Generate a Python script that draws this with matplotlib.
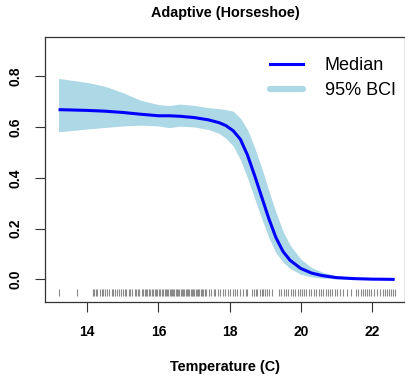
import matplotlib
matplotlib.use("Agg")
import matplotlib.pyplot as plt
from matplotlib.lines import Line2D

plt.rcParams['font.family'] = ['Liberation Sans', 'DejaVu Sans']

# ---- data ----
temperature = [13.19, 13.5, 14.0, 14.5, 15.0, 15.5, 16.0, 16.3, 16.6, 17.0, 17.4, 17.7,
               17.9, 18.1, 18.3, 18.5, 18.7, 18.9, 19.1, 19.3, 19.5, 19.7, 20.0, 20.3,
               20.6, 21.0, 21.5, 22.0, 22.64]
median = [0.668, 0.667, 0.665, 0.662, 0.657, 0.650, 0.644, 0.644, 0.642, 0.637, 0.628, 0.617,
          0.605, 0.585, 0.552, 0.490, 0.410, 0.325, 0.240, 0.165, 0.110, 0.075, 0.043, 0.025,
          0.015, 0.007, 0.003, 0.001, 0.000]
upper = [0.791, 0.785, 0.775, 0.760, 0.735, 0.705, 0.688, 0.684, 0.690, 0.685, 0.676, 0.672,
         0.668, 0.662, 0.635, 0.590, 0.520, 0.440, 0.350, 0.265, 0.190, 0.135, 0.080, 0.047,
         0.029, 0.014, 0.006, 0.003, 0.001]
lower = [0.581, 0.585, 0.592, 0.598, 0.604, 0.607, 0.604, 0.597, 0.603, 0.600, 0.590, 0.575,
         0.555, 0.525, 0.472, 0.400, 0.320, 0.240, 0.165, 0.105, 0.068, 0.043, 0.020, 0.010,
         0.005, 0.002, 0.000, 0.000, 0.000]

rug_temps = [13.19, 13.70,
             14.15, 14.20, 14.24, 14.28, 14.35, 14.40, 14.44, 14.50, 14.55, 14.60, 14.68, 14.72,
             14.77, 14.82, 14.90, 14.95, 15.00, 15.05, 15.09, 15.16, 15.20, 15.25, 15.34, 15.38,
             15.42, 15.46, 15.53, 15.57, 15.61, 15.65, 15.69, 15.73, 15.77, 15.81, 15.85, 15.89,
             15.93, 15.97, 16.01, 16.05, 16.09, 16.13, 16.17, 16.21, 16.25, 16.28, 16.31, 16.35,
             16.38, 16.42, 16.45, 16.49, 16.52, 16.56, 16.59, 16.63, 16.66, 16.70, 16.73, 16.77,
             16.80, 16.84, 16.87, 16.91, 16.94, 16.98, 17.01, 17.05, 17.08, 17.12, 17.15, 17.19,
             17.22, 17.26, 17.30, 17.34, 17.42, 17.48, 17.55, 17.60, 17.68, 17.74, 17.80, 17.88,
             17.95, 18.02, 18.10, 18.16, 18.22, 18.30, 18.38, 18.45, 18.50, 18.62, 18.68, 18.73,
             18.78, 18.84, 18.90, 18.95, 19.00, 19.06, 19.12, 19.20, 19.38, 19.45, 19.52, 19.58,
             19.65, 19.72, 19.78, 19.85, 19.92, 19.98, 20.04, 20.10, 20.16, 20.22, 20.28, 20.36,
             20.44, 20.50, 20.56, 20.62, 20.70, 20.76, 20.82, 20.88, 20.95, 21.02, 21.10, 21.18,
             21.30, 21.40, 21.55, 21.62, 21.68, 21.74, 21.80, 21.86, 21.92, 21.98, 22.05, 22.15,
             22.22, 22.30, 22.36, 22.42, 22.48, 22.55, 22.60, 22.64]

x_ticks = [14, 16, 18, 20, 22]
y_ticks = [0.0, 0.2, 0.4, 0.6, 0.8]
title = "Adaptive (Horseshoe)"
x_label = "Temperature (C)"
legend_labels = ["Median", "95% BCI"]

# ---- figure ----
fig = plt.figure(figsize=(4.06, 3.81), dpi=100)
ax = fig.add_axes([45 / 406, 79 / 381, 360 / 406, 265 / 381])

ax.fill_between(temperature, lower, upper, color='#ADD8E6', linewidth=0)
ax.plot(temperature, median, color='#0000FF', lw=2.2, solid_capstyle='butt')
ax.vlines(rug_temps, -0.066, -0.039, color='#8a8a8a', lw=0.8)

ax.set_xlim(12.81, 22.93)
ax.set_ylim(-0.089, 0.954)
ax.set_xticks(x_ticks)
ax.set_xticklabels([str(t) for t in x_ticks], fontweight='bold', fontsize=10)
ax.set_yticks(y_ticks)
ax.set_yticklabels([f"{v:.1f}" for v in y_ticks], fontweight='bold', fontsize=10,
                   rotation=90, va='center')
ax.tick_params(axis='both', direction='out', length=7.2, width=0.8, color='#333333')
ax.tick_params(axis='x', pad=9)
ax.tick_params(axis='y', pad=9)
for s in ax.spines.values():
    s.set_linewidth(0.9)
    s.set_color('#333333')

fig.text(225 / 406, 1 - 13 / 381, title, ha='center', va='center',
         fontweight='bold', fontsize=10.4)
fig.text(225 / 406, 1 - 367 / 381, x_label, ha='center', va='center',
         fontweight='bold', fontsize=10.4)

handles = [Line2D([0], [0], color='#0000FF', lw=2.2),
           Line2D([0], [0], color='#ADD8E6', lw=4.5, solid_capstyle='round')]
ax.legend(handles, legend_labels, loc='upper right', frameon=False, fontsize=13,
          handlelength=1.85, handletextpad=1.2, labelspacing=0.45,
          bbox_to_anchor=(1.02, 0.985))

fig.savefig("out.png", dpi=100)
